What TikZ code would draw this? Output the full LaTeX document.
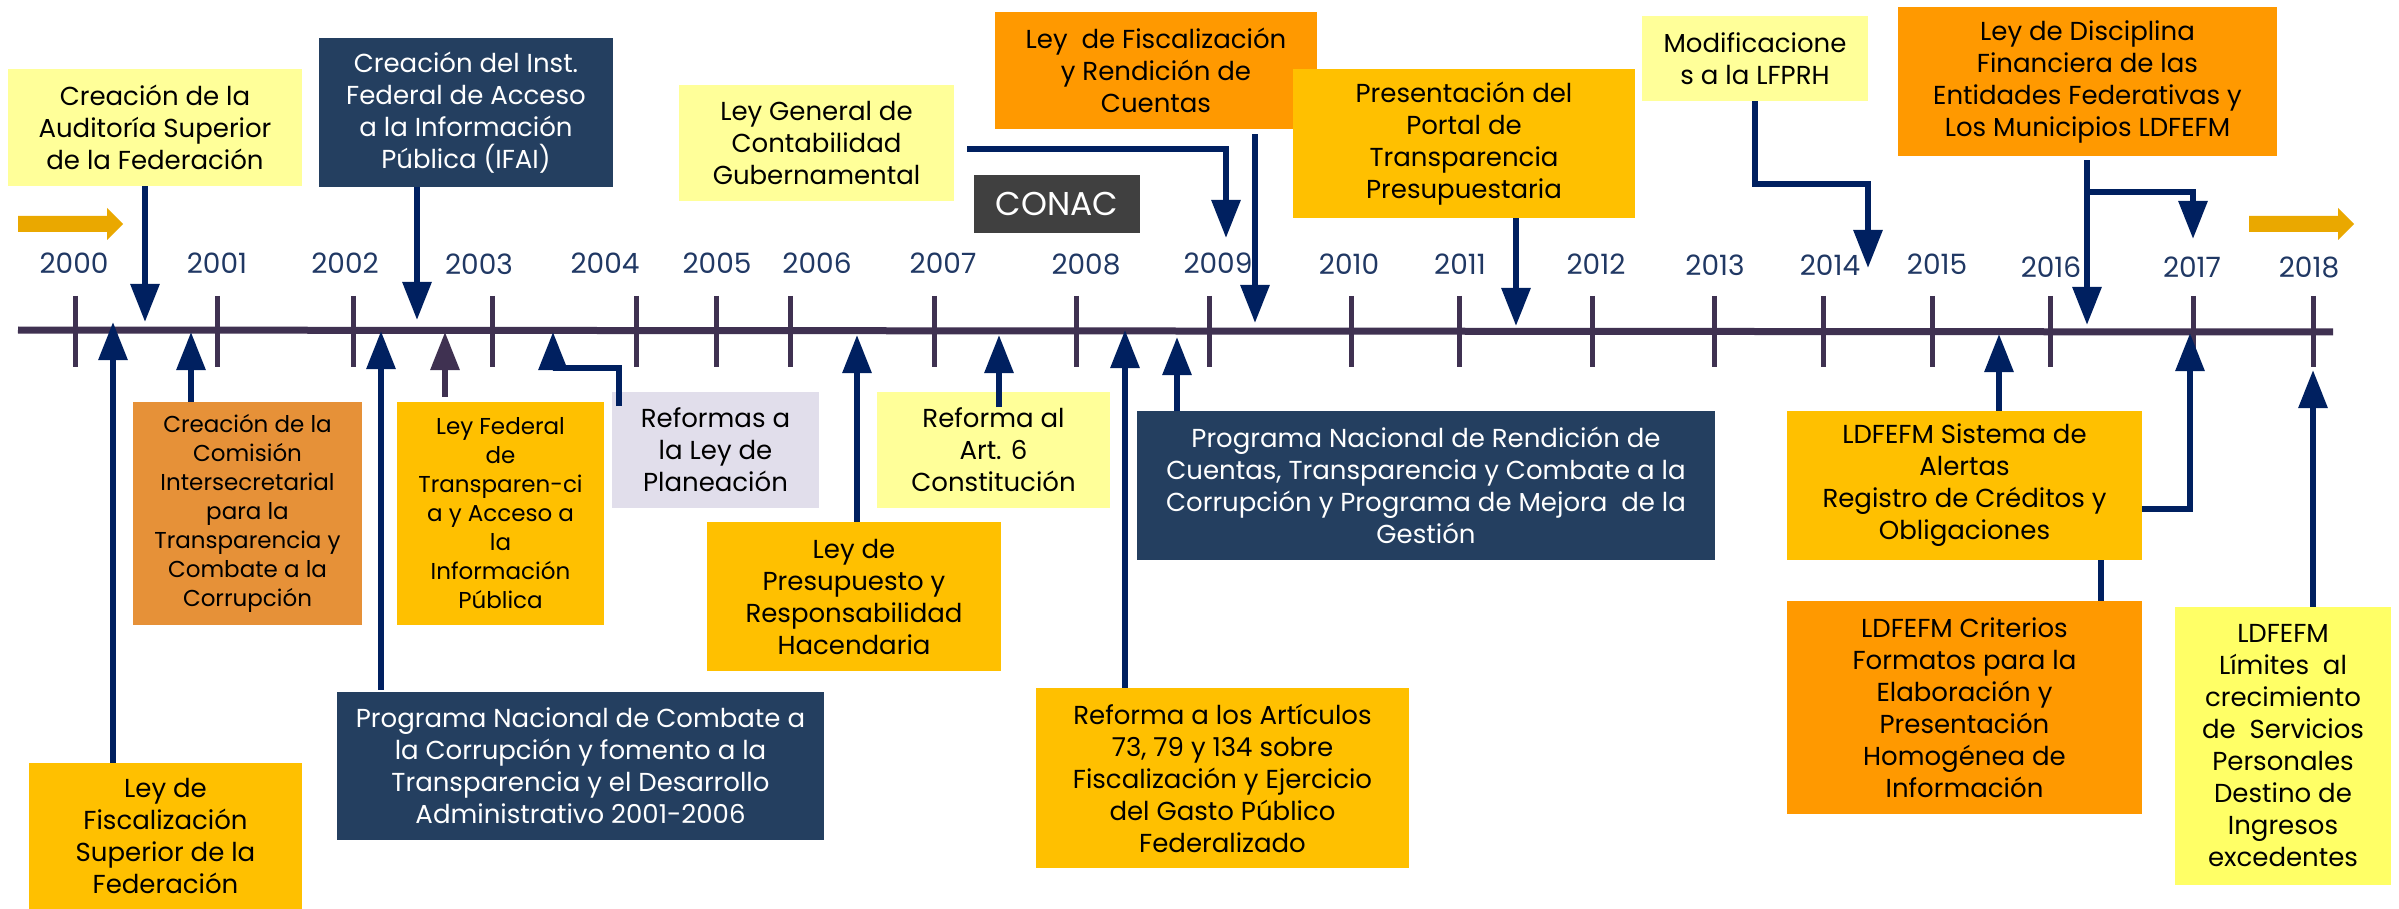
\documentclass[tikz,border=0pt]{standalone}
\usepackage{fontspec}
\setmainfont{Poppins}
\usetikzlibrary{arrows.meta}
\definecolor{ltyel}{HTML}{FFFF99}
\definecolor{brtyel}{HTML}{FFFF66}
\definecolor{gold}{HTML}{FFC000}
\definecolor{orng}{HTML}{FF9900}
\definecolor{comorg}{HTML}{E69138}
\definecolor{dkblue}{HTML}{243F60}
\definecolor{lavend}{HTML}{E1DEEB}
\definecolor{conacg}{HTML}{404040}
\definecolor{navy}{HTML}{002060}
\definecolor{tline}{HTML}{3F3151}
\definecolor{yeartxt}{HTML}{203864}
\definecolor{goldarrow}{HTML}{EAA800}
\tikzset{
  box/.style={rectangle, inner sep=2pt, align=center, text=black,
    font=\fontsize{26}{32}\selectfont},
  smallbox/.style={box, font=\fontsize{23}{29}\selectfont},
  darkbox/.style={box, fill=dkblue, text=white},
  arr/.style={draw=navy, line width=6pt, -{Triangle[width=28pt,length=38pt]}},
  parr/.style={draw=tline, line width=6pt, -{Triangle[width=28pt,length=38pt]}},
  link/.style={draw=navy, line width=6pt},
  tick/.style={draw=tline, line width=5pt},
  year/.style={text=yeartxt, font=\fontsize{28}{32}\selectfont, inner sep=0pt},
  bigarrow/.style={fill=goldarrow}
}
\begin{document}
\begin{tikzpicture}[x=1pt,y=-1pt]
\useasboundingbox (0,0) rectangle (2399,909);
\fill[white] (0,0) rectangle (2399,909);

% gold direction arrows
\fill[bigarrow] (18,216) -- (107,216) -- (107,208) -- (123,224) -- (107,240) -- (107,232) -- (18,232) -- cycle;
\fill[bigarrow] (2249,216) -- (2338,216) -- (2338,208) -- (2354,224) -- (2338,240) -- (2338,232) -- (2249,232) -- cycle;

% timeline
\coordinate (tlA) at (18,330);
\coordinate (tlB) at (2333,332);
\draw[draw=tline, line width=7pt] (tlA) -- (tlB);
\foreach \x/\n in {75/y0,217/y1,353/y2,492/y3,636/y4,716/y5,790/y6,934/y7,1076/y8,1209/y9,1351/y10,1459/y11,1592/y12,1714/y13,1823/y14,1932/y15,2050/y16,2193/y17,2313/y18}
  \draw[tick] (\x,296) -- (\x,367);

% year labels
\node[year] (l2000) at (74,263) {2000};
\node[year] (l2001) at (217,263) {2001};
\node[year] (l2002) at (345,263) {2002};
\node[year] (l2003) at (479,264) {2003};
\node[year] (l2004) at (605,263) {2004};
\node[year] (l2005) at (717,263) {2005};
\node[year] (l2006) at (817,263) {2006};
\node[year] (l2007) at (943,263) {2007};
\node[year] (l2008) at (1086,264) {2008};
\node[year] (l2009) at (1218,263) {2009};
\node[year] (l2010) at (1349,264) {2010};
\node[year] (l2011) at (1460,264) {2011};
\node[year] (l2012) at (1596,264) {2012};
\node[year] (l2013) at (1715,265) {2013};
\node[year] (l2014) at (1830,265) {2014};
\node[year] (l2015) at (1937,264) {2015};
\node[year] (l2016) at (2051,267) {2016};
\node[year] (l2017) at (2192,267) {2017};
\node[year] (l2018) at (2309,267) {2018};

% top boxes
\node[box, fill=ltyel, minimum width=294pt, minimum height=117pt] (aud) at (155,127.5)
  {Creación de la\\Auditoría Superior\\de la Federación};
\node[darkbox, minimum width=294pt, minimum height=149pt] (ifai) at (466,112.5)
  {Creación del Inst.\\Federal de Acceso\\a la Información\\Pública (IFAI)};
\node[box, fill=ltyel, minimum width=275pt, minimum height=116pt] (lgcg) at (816.5,143)
  {Ley General de\\Contabilidad\\Gubernamental};
\node[box, fill=conacg, text=white, font=\fontsize{33}{36}\selectfont, minimum width=166pt, minimum height=58pt] (conac) at (1057,204)
  {CONAC};
\node[box, fill=orng, minimum width=322pt, minimum height=117pt] (lfrc) at (1156,70.5)
  {Ley\ \ de Fiscalización\\y Rendición de\\Cuentas};
\node[box, fill=gold, minimum width=342pt, minimum height=149pt] (ptp) at (1464,143.5)
  {Presentación del\\Portal de\\Transparencia\\Presupuestaria};
\node[box, fill=ltyel, minimum width=226pt, minimum height=85pt] (mod) at (1755,58.5)
  {Modificacione\\s a la LFPRH};
\node[box, fill=orng, minimum width=379pt, minimum height=149pt] (ldf) at (2087.5,81.5)
  {Ley de Disciplina\\Financiera de las\\Entidades Federativas y\\Los Municipios LDFEFM};

% bottom boxes
\node[box, fill=gold, minimum width=273pt, minimum height=146pt] (lfsf) at (165.5,836)
  {Ley de\\Fiscalización\\Superior de la\\Federación};
\node[smallbox, fill=comorg, minimum width=229pt, minimum height=223pt] (com) at (247.5,513.5)
  {Creación de la\\Comisión\\Intersecretarial\\para la\\Transparencia y\\Combate a la\\Corrupción};
\node[smallbox, fill=gold, minimum width=207pt, minimum height=223pt] (lft) at (500.5,513.5)
  {Ley Federal\\de\\Transparen-ci\\a y Acceso a\\la\\Información\\Pública};
\node[box, fill=lavend, minimum width=207pt, minimum height=116pt] (ref) at (715.5,450)
  {Reformas a\\la Ley de\\Planeación};
\node[darkbox, minimum width=487pt, minimum height=148pt] (pnc) at (580.5,766)
  {Programa Nacional de Combate a\\la Corrupción y fomento a la\\Transparencia y el Desarrollo\\Administrativo 2001-2006};
\node[box, fill=gold, minimum width=294pt, minimum height=149pt] (lprh) at (854,596.5)
  {Ley de\\Presupuesto y\\Responsabilidad\\Hacendaria};
\node[box, fill=ltyel, minimum width=233pt, minimum height=116pt] (ra6) at (993.5,450)
  {Reforma al\\Art. 6\\Constitución};
\node[box, fill=gold, minimum width=373pt, minimum height=180pt] (raf) at (1222.5,778)
  {Reforma a los Artículos\\73, 79 y 134 sobre\\Fiscalización y Ejercicio\\del Gasto Público\\Federalizado};
\node[darkbox, minimum width=578pt, minimum height=149pt] (pnr) at (1426,485.5)
  {Programa Nacional de Rendición de\\Cuentas, Transparencia y Combate a la\\Corrupción y Programa de Mejora\ \ de la\\Gestión};
\node[box, fill=gold, minimum width=355pt, minimum height=149pt] (sis) at (1964.5,485.5)
  {LDFEFM Sistema de\\Alertas\\Registro de Créditos y\\Obligaciones};
\node[box, fill=orng, minimum width=355pt, minimum height=213pt] (cri) at (1964.5,707.5)
  {LDFEFM Criterios\\Formatos para la\\Elaboración y\\Presentación\\Homogénea de\\Información};
\node[box, fill=brtyel, minimum width=216pt, minimum height=278pt] (lim) at (2283,746)
  {LDFEFM\\Límites\ \ al\\crecimiento\\de\ \ Servicios\\Personales\\Destino de\\Ingresos\\excedentes};

% arrow end points on the timeline
\coordinate (d1) at (145,322);
\coordinate (d2) at (417,320);
\coordinate (d3) at (1226,238);
\coordinate (d4) at (1255,323);
\coordinate (d5) at (1516,326);
\coordinate (k6) at (1868,184);
\coordinate (d6) at (1868,268);
\coordinate (d7) at (2087,325);
\coordinate (k7) at (2087,192);
\coordinate (d7b) at (2193,239);
\coordinate (u1) at (113,322);
\coordinate (u2) at (191,332);
\coordinate (u3) at (381,331);
\coordinate (u4) at (445,332);
\coordinate (s5) at (619,406);
\coordinate (k5) at (619,368);
\coordinate (u5) at (553,332);
\coordinate (u6) at (857,335);
\coordinate (s7) at (999,407);
\coordinate (u7) at (999,335);
\coordinate (u8) at (1125,330);
\coordinate (u9) at (1177,337);
\coordinate (u10) at (1999,334);
\coordinate (k11) at (2190,509);
\coordinate (u11) at (2190,333);
\coordinate (u12) at (2313,370);

% downward connectors
\draw[arr] (aud.south -| d1) -- (d1);
\draw[arr] (ifai.south -| d2) -- (d2);
\draw[arr] ([xshift=13pt,yshift=-6pt]lgcg.east) -| (d3);
\draw[arr] ([yshift=-5pt]lfrc.south -| d4) -- (d4);
\draw[arr] (ptp.south -| d5) -- (d5);
\draw[arr] (mod.south) |- (k6) -- (d6);
\draw[arr] ([yshift=-4pt]ldf.south -| d7) -- (d7);
\draw[arr] (k7) -| (d7b);

% upward connectors
\draw[arr] (lfsf.north -| u1) -- (u1);
\draw[arr] (com.north -| u2) -- (u2);
\draw[arr] ([yshift=2pt]pnc.north -| u3) -- (u3);
\draw[parr] ([yshift=5pt]lft.north -| u4) -- (u4);
\draw[arr] (s5) -- (k5) -| (u5);
\draw[arr] (lprh.north -| u6) -- (u6);
\draw[arr] (s7) -- (u7);
\draw[arr] (raf.north -| u8) -- (u8);
\draw[arr] (pnr.north -| u9) -- (u9);
\draw[arr] (sis.north -| u10) -- (u10);
\draw[arr] (sis.east |- k11) -- (k11) -- (u11);
\draw[arr] (lim.north -| u12) -- (u12);
\draw[link] (sis.south -| 2101,0) -- (cri.north -| 2101,0);
\end{tikzpicture}
\end{document}
